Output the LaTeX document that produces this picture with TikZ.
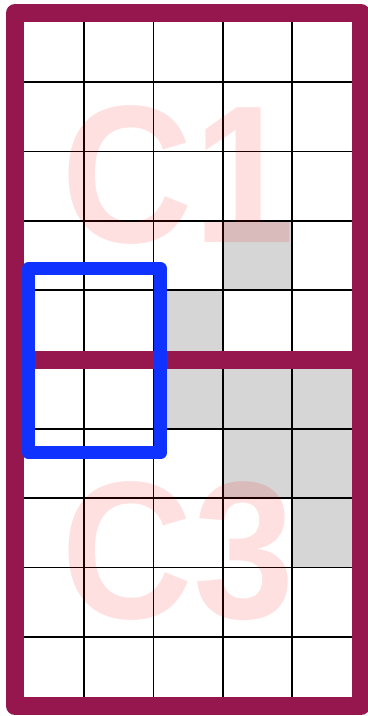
\documentclass[tikz,border=0pt]{standalone}
\usepackage{fontspec}
\setmainfont{Liberation Sans}
\definecolor{maroon}{RGB}{150,23,78}
\definecolor{vivblue}{RGB}{16,50,255}
\definecolor{cellgrey}{RGB}{214,214,214}
\begin{document}
\begin{tikzpicture}[x=0.5pt,y=-0.5pt,
  gridline/.style={black,line width=0.9pt},
  frame/.style={maroon,line width=9pt,line join=round},
  selbox/.style={vivblue,line width=6.5pt,line join=round},
  shade/.style={fill=cellgrey},
  biglabel/.style={red,opacity=0.12,font=\fontsize{98}{98}\selectfont\bfseries,inner sep=0pt,anchor=base west}]
\useasboundingbox (0,0) rectangle (368,716);
\fill[white] (0,0) rectangle (368,716);
\def\cw{69.2}
\def\ch{69.3}
% grey cells (col,row)
\foreach \c/\r in {3/3,2/4,2/5,3/5,4/5,3/6,4/6,4/7}
  \fill[shade] ({15+\c*\cw},{13+\r*\ch}) rectangle ({15+(\c+1)*\cw},{13+(\r+1)*\ch});
% grid lines
\foreach \i in {1,...,4}
  \draw[gridline] ({15+\i*\cw},13) -- ({15+\i*\cw},706);
\foreach \j in {1,2,3,4,6,7,8,9}
  \draw[gridline] (15,{13+\j*\ch}) -- (361,{13+\j*\ch});
% middle divider
\draw[maroon,line width=9pt] (15,359.5) -- (361,359.5);
% outer frame
\draw[frame] (15,13) rectangle (361,706);
% selection box
\draw[selbox] (28.5,268.7) rectangle (160.7,452.7);
% labels
\node[biglabel] (c1) at (61,243) {\scalebox{0.93}[1]{C1}};
\node[biglabel] (c3) at (61,618) {\scalebox{0.93}[1]{C3}};
\end{tikzpicture}
\end{document}
